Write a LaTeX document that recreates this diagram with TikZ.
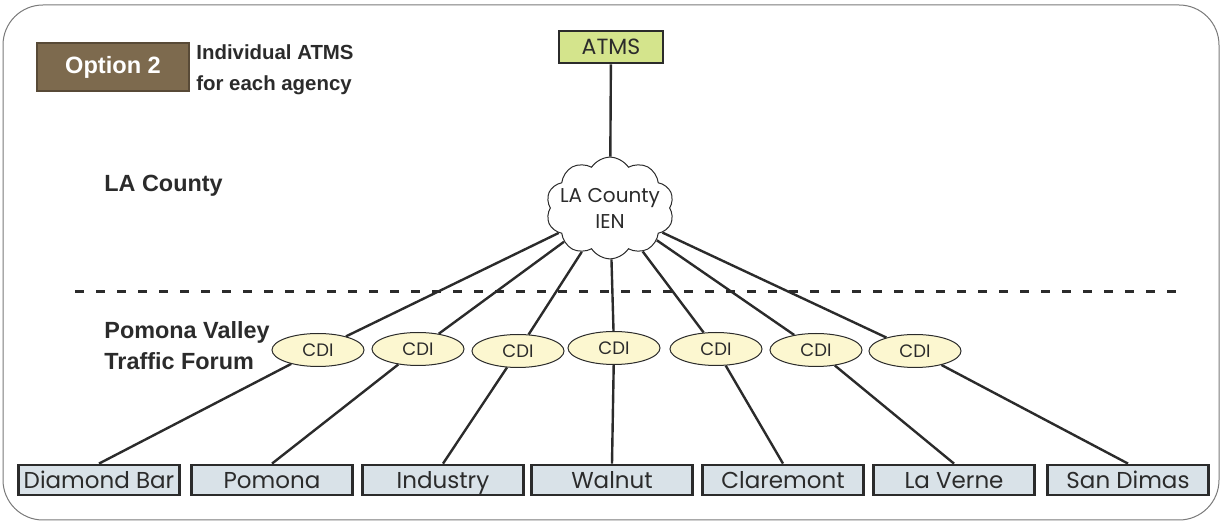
\documentclass[tikz,border=0pt]{standalone}
\usepackage{fontspec}
\setmainfont{Liberation Sans}
\newfontfamily\gothic{Poppins}
\usetikzlibrary{
  positioning,
  shapes.geometric,
  shapes.symbols
}
\definecolor{pvBrown}{HTML}{7D6A4E}
\definecolor{pvAtms}{HTML}{D4E48C}
\definecolor{pvCity}{HTML}{D9E2E8}
\definecolor{pvCdi}{HTML}{FCF7D0}
\definecolor{pvFrame}{HTML}{7A7A7A}
\definecolor{pvInk}{HTML}{2B2B2B}
\tikzset{
  pvnode/.style={
    draw=pvInk, inner sep=0pt, text=pvInk, align=center,
    font=\gothic\fontsize{11.5}{14}\selectfont
  },
  city/.style={pvnode, rectangle, fill=pvCity, line width=1.4pt, minimum width=80.5pt, minimum height=15pt,
    text height=9.6pt, text depth=1.2pt},
  atms/.style={pvnode, rectangle, fill=pvAtms, line width=1.4pt, minimum width=52pt, minimum height=16pt,
    font=\gothic\fontsize{11}{13}\selectfont},
  cdi/.style={pvnode, ellipse, fill=pvCdi, line width=0.5pt, minimum width=46pt, minimum height=16.5pt,
    font=\gothic\fontsize{9}{11}\selectfont},
  ien/.style={pvnode, cloud, cloud puffs=10, cloud puff arc=115, aspect=1.3, fill=white, line width=0.5pt,
    inner sep=-5pt, minimum width=64pt, minimum height=50pt, font=\gothic\fontsize{10}{13}\selectfont},
  option/.style={draw=pvBrown!70!black, line width=0.6pt, fill=pvBrown, text=white, inner sep=0pt,
    minimum width=76pt, minimum height=24pt, font=\bfseries\fontsize{11.8}{14}\selectfont},
  note/.style={anchor=west, inner sep=0pt, align=left, text=pvInk, font=\bfseries\fontsize{10.2}{15.5}\selectfont},
  region/.style={anchor=west, inner sep=0pt, align=left, text=pvInk, font=\bfseries\fontsize{11.7}{15.5}\selectfont},
  link/.style={line width=1.2pt, pvInk},
  divider/.style={line width=1.5pt, pvInk, dash pattern=on 4.5pt off 6pt},
  frame/.style={draw=pvFrame, line width=0.5pt, rounded corners=20pt}
}

\begin{document}
\begin{tikzpicture}[x=0.5pt, y=-0.5pt]
  \useasboundingbox (0,0) rectangle (1222,523);
  \draw[frame] (3,5) rectangle (1219,520);

  % heading
  \node[option] (opt) at (113,67) {Option 2};
  \node[note] (note) at (196,70) {Individual ATMS\\for each agency};

  % county level
  \node[atms] (atms) at (611,47) {ATMS};
  \node[ien] (ien) at (610,208) {LA County\\IEN};
  \node[region] (lacounty) at (104,186) {LA County};

  \coordinate (divL) at (75,292);
  \coordinate (divR) at (1180,292);
  \draw[divider] (divL) -- (divR);

  % forum level
  \node[region] (pvtf) at (104,346) {Pomona Valley\\Traffic Forum};
  \node[cdi] (cdi1) at (318,350) {CDI};
  \node[cdi] (cdi2) at (418,349) {CDI};
  \node[cdi] (cdi3) at (518,351) {CDI};
  \node[cdi] (cdi4) at (614,348) {CDI};
  \node[cdi] (cdi5) at (716,349) {CDI};
  \node[cdi] (cdi6) at (816,350) {CDI};
  \node[cdi] (cdi7) at (915,351) {CDI};

  % agencies
  \node[city] (dbar) at (99,480) {Diamond Bar};
  \node[city] (pomona) at (272,480) {Pomona};
  \node[city] (industry) at (443,480) {Industry};
  \node[city] (walnut) at (612,480) {Walnut};
  \node[city] (claremont) at (783,480) {Claremont};
  \node[city] (laverne) at (954,480) {La Verne};
  \node[city] (sandimas) at (1128,480) {San Dimas};

  \draw[link] (atms) -- (ien);
  \draw[link] (ien) -- (cdi1) -- (dbar.north);
  \draw[link] (ien) -- (cdi2) -- (pomona.north);
  \draw[link] (ien) -- (cdi3) -- (industry.north);
  \draw[link] (ien) -- (cdi4) -- (walnut.north);
  \draw[link] (ien) -- (cdi5) -- (claremont.north);
  \draw[link] (ien) -- (cdi6) -- (laverne.north);
  \draw[link] (ien) -- (cdi7) -- (sandimas.north);
\end{tikzpicture}
\end{document}
